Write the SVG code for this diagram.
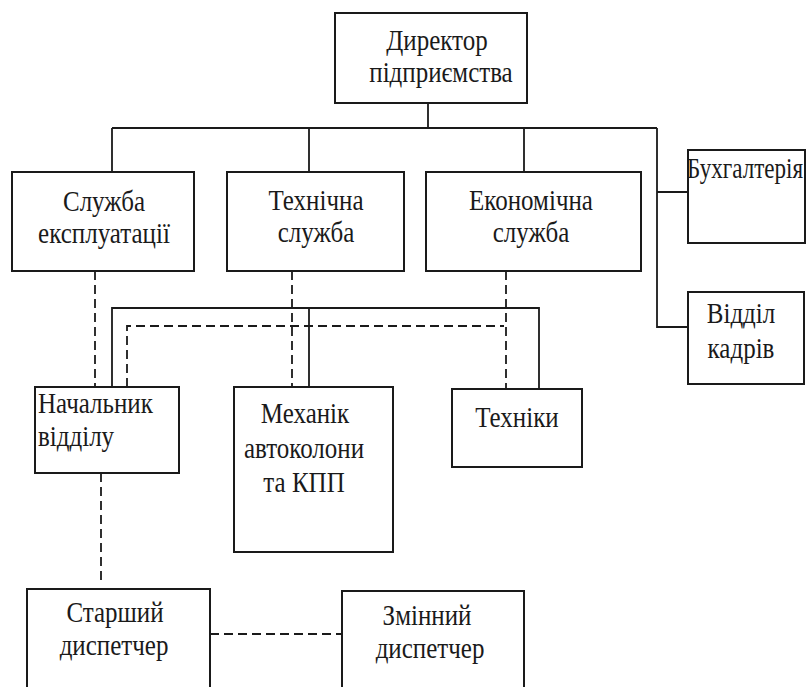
<svg xmlns="http://www.w3.org/2000/svg" width="808" height="687" viewBox="0 0 808 687">
<style>
.box{fill:#fff;stroke:#1a1a1a;stroke-width:2}
.t{font-family:"Liberation Serif","Times New Roman",serif;font-size:25px;fill:#1a1a1a;text-anchor:middle}
.l{text-anchor:start}
.s{fill:none;stroke:#1a1a1a;stroke-width:1.8}
.d{fill:none;stroke:#1a1a1a;stroke-width:1.8;stroke-dasharray:9 5}
</style>
<rect width="808" height="687" fill="#fff"/>
<g id="connectors">
<path class="s" d="M428,103 V128 M112,128 H657 M112,128 V172 M309,128 V172 M524,128 V172 M657,128 V327 H688 M657,192 H688"/>
<path class="s" d="M112,387 V308 H539 V389 M309,308 V387"/>
<path class="d" d="M95,271 V387 M292,271 V387 M506,271 V389 M127,387 V326 H504"/>
<path class="d" d="M101,473 V582 M210,634 H342"/>
</g>
<g id="director"><rect class="box" x="335" y="13" width="192" height="90"/><text class="t" transform="translate(437,50) scale(1,1.15)">Директор</text><text class="t" transform="translate(441,82) scale(1,1.15)">підприємства</text></g>
<g id="ekspl"><rect class="box" x="12" y="172" width="182" height="99"/><text class="t" transform="translate(104,211) scale(1,1.15)">Служба</text><text class="t" transform="translate(104,243) scale(1,1.15)">експлуатації</text></g>
<g id="tekh"><rect class="box" x="227" y="172" width="177" height="99"/><text class="t" transform="translate(316,210) scale(1,1.15)">Технічна</text><text class="t" transform="translate(316,242) scale(1,1.15)">служба</text></g>
<g id="ekon"><rect class="box" x="426" y="172" width="215" height="99"/><text class="t" transform="translate(531,210) scale(1,1.15)">Економічна</text><text class="t" transform="translate(531,242) scale(1,1.15)">служба</text></g>
<g id="bukh"><rect class="box" x="688" y="150" width="117" height="93"/><text class="t l" style="font-size:23px" transform="translate(687,178) scale(1,1.25)" textLength="116" lengthAdjust="spacingAndGlyphs">Бухгалтерія</text></g>
<g id="kadry"><rect class="box" x="688" y="292" width="116" height="92"/><text class="t" transform="translate(741,323) scale(1,1.15)">Відділ</text><text class="t" transform="translate(741,358) scale(1,1.15)">кадрів</text></g>
<g id="nachalnyk"><rect class="box" x="35" y="387" width="144" height="86"/><text class="t l" transform="translate(38,413) scale(1,1.15)">Начальник</text><text class="t l" transform="translate(38,446) scale(1,1.15)">відділу</text></g>
<g id="mekhanik"><rect class="box" x="234" y="387" width="159" height="165"/><text class="t" transform="translate(305,423) scale(1,1.15)">Механік</text><text class="t" transform="translate(304,458) scale(1,1.15)">автоколони</text><text class="t" transform="translate(304,492) scale(1,1.15)">та КПП</text></g>
<g id="tekhniky"><rect class="box" x="452" y="389" width="130" height="78"/><text class="t" transform="translate(517,427) scale(1,1.15)">Техніки</text></g>
<g id="starshyi"><rect class="box" x="27" y="589" width="183" height="110"/><text class="t" transform="translate(115,622) scale(1,1.15)">Старший</text><text class="t" transform="translate(114,655) scale(1,1.15)">диспетчер</text></g>
<g id="zminnyi"><rect class="box" x="342" y="591" width="182" height="110"/><text class="t" transform="translate(427,625) scale(1,1.15)">Змінний</text><text class="t" transform="translate(430,658) scale(1,1.15)">диспетчер</text></g>
</svg>
